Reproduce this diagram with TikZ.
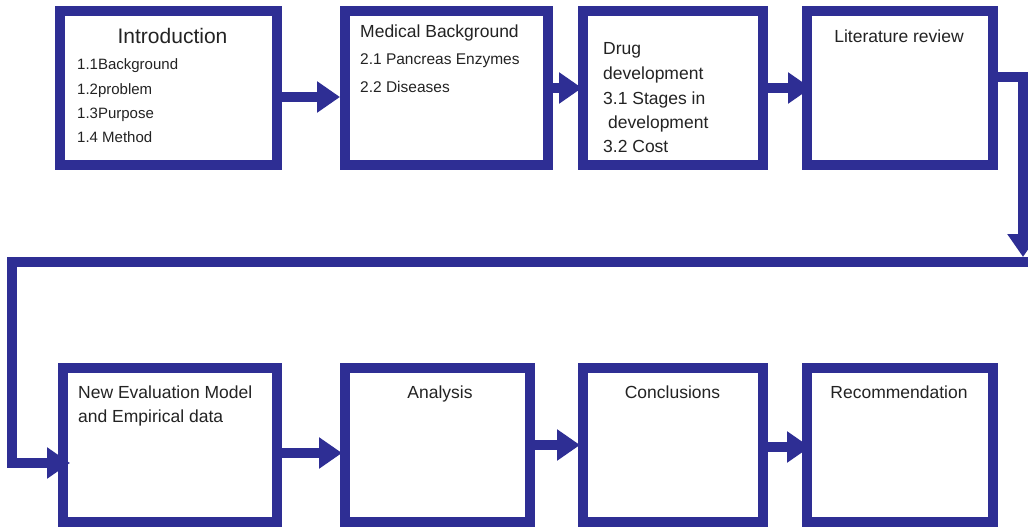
\documentclass[tikz,border=0pt]{standalone}
\usepackage{fontspec}
\setmainfont{Liberation Sans}
\usetikzlibrary{arrows.meta}
\definecolor{flowblue}{RGB}{46,46,148}
\definecolor{inkgray}{RGB}{35,35,35}
\begin{document}
\begin{tikzpicture}[x=1pt,y=-1pt,
  box/.style={draw=flowblue, line width=10pt, fill=white, rectangle,
              inner sep=0pt, minimum height=154pt},
  conn/.style={draw=flowblue, line width=10pt,
               -{Triangle[length=23pt,width=30pt]}},
  txt/.style={text=inkgray, inner sep=0pt, font=\fontsize{17.5}{20}\selectfont},
  sub/.style={txt, font=\fontsize{15}{18}\selectfont, anchor=base west},
]
\useasboundingbox (0,0) rectangle (1028,527);

% chapter boxes, top row
\node[box, minimum width=217pt] (b1) at (168.5,88) {};
\node[box, minimum width=203pt] (b2) at (446.5,88) {};
\node[box, minimum width=180pt] (b3) at (673,88) {};
\node[box, minimum width=186pt] (b4) at (900,88) {};
% chapter boxes, bottom row
\node[box, minimum width=214pt] (b5) at (170,445) {};
\node[box, minimum width=185pt] (b6) at (437.5,445) {};
\node[box, minimum width=180pt] (b7) at (673,445) {};
\node[box, minimum width=186pt] (b8) at (900,445) {};

% chapter 1
\node[txt, font=\fontsize{21}{24}\selectfont, anchor=base] (t1) at (172.5,44) {Introduction};
\node[sub] (t11) at (77,70) {1.1Background};
\node[sub] (t12) at (77,94) {1.2problem};
\node[sub] (t13) at (77,118) {1.3Purpose};
\node[sub] (t14) at (77,142) {1.4 Method};
% chapter 2
\node[txt, anchor=base west] (t2) at (360,38) {Medical Background};
\node[sub, font=\fontsize{15.5}{18}\selectfont] (t21) at (360,65) {2.1 Pancreas Enzymes};
\node[sub, font=\fontsize{15.5}{18}\selectfont] (t22) at (360,92.5) {2.2 Diseases};
% chapter 3
\node[txt, anchor=base west] (t3a) at (603,55) {Drug};
\node[txt, anchor=base west] (t3b) at (603,79) {development};
\node[txt, anchor=base west] (t31) at (603,104) {3.1 Stages in};
\node[txt, anchor=base west] (t31b) at (608,128) {development};
\node[txt, anchor=base west] (t32) at (603,152) {3.2 Cost};
% chapter 4
\node[txt, anchor=base] (t4) at (899,43) {Literature review};
% chapters 5-8
\node[txt, anchor=base west] (t5a) at (78,398) {New Evaluation Model};
\node[txt, anchor=base west] (t5b) at (78,422) {and Empirical data};
\node[txt, anchor=base] (t6) at (440,398) {Analysis};
\node[txt, anchor=base] (t7) at (672.5,398) {Conclusions};
\node[txt, anchor=base] (t8) at (899,398) {Recommendation};

% top row arrows
\draw[conn] ([yshift=-9pt]b1.east) -- ([yshift=-9pt]b2.west);
\draw[conn] (b2.east) -- ([xshift=4pt]b3.west);
\draw[conn] (b3.east) -- ([xshift=9pt]b4.west);

% wrap-around from the top row to the bottom row
\coordinate (r1) at (1023,77);
\coordinate (r2) at (1023,257);
\coordinate (r3) at (1028,262);
\coordinate (l1) at (12,262);
\draw[conn] (b4.east |- r1) -- (r1) -- (r2);
\draw[conn] (r3) -- (l1) |- ([yshift=-18pt,xshift=12pt]b5.west);

% bottom row arrows
\draw[conn] ([yshift=-8pt]b5.east) -- ([yshift=-8pt,xshift=2pt]b6.west);
\draw[conn] (b6.east) -- ([xshift=2pt]b7.west);
\draw[conn] ([yshift=-2pt]b7.east) -- ([yshift=-2pt,xshift=8pt]b8.west);
\end{tikzpicture}
\end{document}
